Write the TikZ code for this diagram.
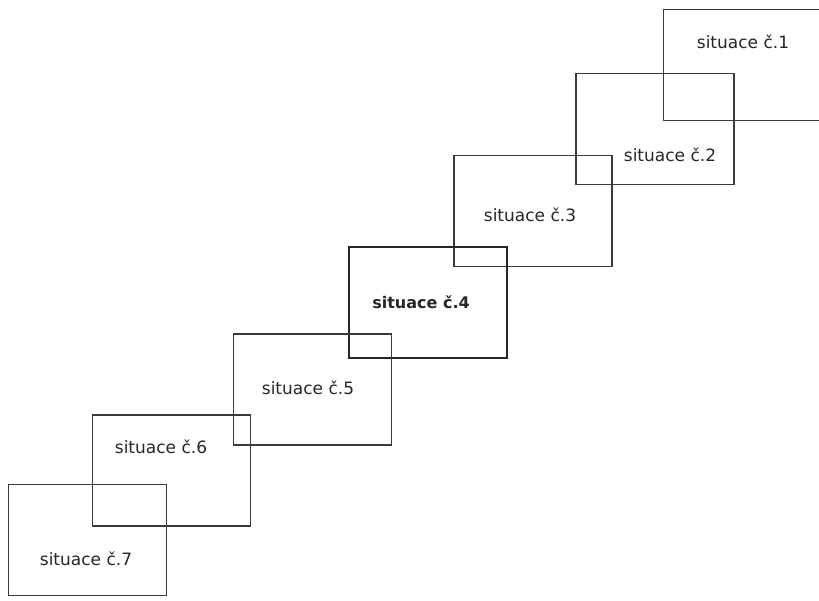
\documentclass[tikz,border=0pt]{standalone}
\usepackage{fontspec}
\setmainfont{DejaVu Sans}
\usepackage{tikz}
\usetikzlibrary{positioning}
\definecolor{linegray}{HTML}{3A3A3A}
\tikzset{
    sit/.style={draw=linegray, line width=1.2pt, minimum width=158pt, minimum height=111pt, inner sep=0pt},
    sitB/.style={sit, line width=2pt, draw=black!85},
    lab/.style={inner sep=0pt, text=black!85, font=\fontsize{17}{20}\selectfont},
    labB/.style={lab, font=\fontsize{16}{20}\selectfont\bfseries}
}
\begin{document}
\begin{tikzpicture}[x=1pt,y=-1pt]
    \useasboundingbox (0,0) rectangle (819,600);
    \node[sit] (s1) at (742.5,65) {};
    \node[sit] (s2) at (655,129) {};
    \node[sit] (s3) at (533,211) {};
    \node[sitB] (s4) at (427.5,302) {};
    \node[sit] (s5) at (312.5,389.5) {};
    \node[sit] (s6) at (171.5,470.5) {};
    \node[sit] (s7) at (87.5,540) {};

    \node[lab] (l1) at (743,42) {situace č.1};
    \node[lab] (l2) at (670,155) {situace č.2};
    \node[lab] (l3) at (530,215) {situace č.3};
    \node[labB] (l4) at (421,302) {situace č.4};
    \node[lab] (l5) at (308,388) {situace č.5};
    \node[lab] (l6) at (161,447) {situace č.6};
    \node[lab] (l7) at (86,559) {situace č.7};
\end{tikzpicture}
\end{document}
